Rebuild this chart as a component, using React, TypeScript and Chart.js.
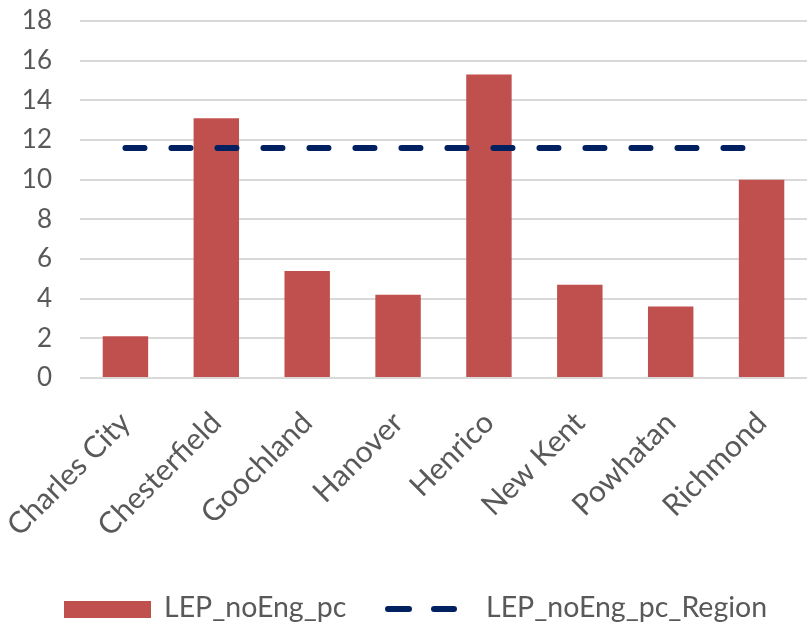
import React, { useEffect, useRef } from "react";
import { Chart, registerables } from "chart.js";

Chart.register(...registerables);

const categories = [
  "Charles City",
  "Chesterfield",
  "Goochland",
  "Hanover",
  "Henrico",
  "New Kent",
  "Powhatan",
  "Richmond",
];
const countyValues = [2.1, 13.1, 5.4, 4.2, 15.3, 4.7, 3.6, 10.0];
const regionValues = [11.6, 11.6, 11.6, 11.6, 11.6, 11.6, 11.6, 11.6];
const yTicks = [0, 2, 4, 6, 8, 10, 12, 14, 16, 18];

const BAR_COLOR = "#C0504D";
const LINE_COLOR = "#002060";
const TEXT_COLOR = "#595959";
const FONT = "Lato, 'Open Sans', sans-serif";

// Legend drawn under the plot: filled swatch for the bars, two round-capped dashes for the region line.
const bottomLegend = {
  id: "bottomLegend",
  afterDraw(chart: any) {
    const ctx = chart.ctx;
    const ds = chart.data.datasets;
    const baseline = 617;
    const mid = 609;
    ctx.save();
    ctx.font = `28.5px ${FONT}`;
    ctx.textBaseline = "alphabetic";
    ctx.textAlign = "left";

    ctx.fillStyle = ds[0].backgroundColor;
    ctx.fillRect(64, 601, 87, 17);
    ctx.fillStyle = TEXT_COLOR;
    ctx.fillText(ds[0].label, 164, baseline);

    ctx.strokeStyle = ds[1].borderColor;
    ctx.lineWidth = 6;
    ctx.lineCap = "round";
    ctx.beginPath();
    ctx.moveTo(388, mid);
    ctx.lineTo(409, mid);
    ctx.moveTo(434, mid);
    ctx.lineTo(454, mid);
    ctx.stroke();
    ctx.fillText(ds[1].label, 486, baseline);
    ctx.restore();
  },
};

export default function App() {
  const canvasRef = useRef<HTMLCanvasElement | null>(null);

  useEffect(() => {
    const canvas = canvasRef.current;
    if (!canvas) return;
    const chart = new Chart(canvas, {
      type: "bar",
      data: {
        labels: categories,
        datasets: [
          {
            type: "bar",
            label: "LEP_noEng_pc",
            data: countyValues,
            backgroundColor: BAR_COLOR,
            barPercentage: 0.5,
            categoryPercentage: 1,
            order: 2,
          },
          {
            type: "line",
            label: "LEP_noEng_pc_Region",
            data: regionValues,
            borderColor: LINE_COLOR,
            backgroundColor: LINE_COLOR,
            borderWidth: 6,
            borderDash: [19, 27],
            borderCapStyle: "round",
            pointRadius: 0,
            fill: false,
            order: 1,
          } as any,
        ],
      },
      options: {
        responsive: false,
        animation: false,
        layout: { padding: { top: 21, right: 0, left: 0, bottom: 0 } },
        plugins: {
          legend: { display: false },
          tooltip: { enabled: false },
        },
        scales: {
          x: {
            grid: { display: false, drawTicks: false },
            border: { display: false },
            ticks: {
              color: TEXT_COLOR,
              font: { family: FONT, size: 30 },
              minRotation: 45,
              maxRotation: 45,
              padding: 27,
            },
            afterFit(scale: any) {
              scale.height = 249;
              scale.paddingLeft = 0;
              scale.paddingRight = 0;
            },
          },
          y: {
            min: 0,
            max: 18,
            afterBuildTicks(scale: any) {
              scale.ticks = yTicks.map((v) => ({ value: v }));
            },
            grid: { color: "#D9D9D9", lineWidth: 2, drawTicks: false },
            border: { display: false },
            ticks: {
              color: TEXT_COLOR,
              font: { family: FONT, size: 26 },
              padding: 28,
            },
            afterFit(scale: any) {
              scale.width = 80;
              scale.paddingTop = 0;
              scale.paddingBottom = 0;
            },
          },
        },
      },
      plugins: [bottomLegend],
    });
    return () => chart.destroy();
  }, []);

  return (
    <div style={{ position: "absolute", left: 0, top: 0, width: 807, height: 627, background: "#fff" }}>
      <canvas ref={canvasRef} width={807} height={627} style={{ width: 807, height: 627 }} />
    </div>
  );
}
